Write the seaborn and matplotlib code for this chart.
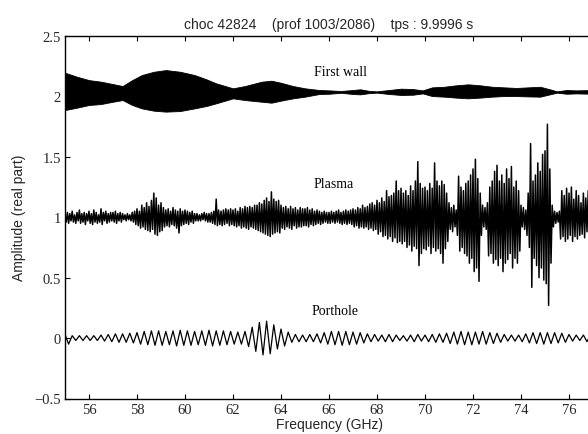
import numpy as np
import pandas as pd
import matplotlib
matplotlib.use("Agg")
import matplotlib.pyplot as plt
import seaborn as sns

# ---------------- data ----------------
title_text = "choc 42824    (prof 1003/2086)    tps : 9.9996 s"
x_label = "Frequency (GHz)"
y_label = "Amplitude (real part)"

x_ticks = [56, 58, 60, 62, 64, 66, 68, 70, 72, 74, 76]
y_ticks = [-0.5, 0, 0.5, 1, 1.5, 2, 2.5]
y_tick_labels = ["\u22120.5", "0", "0.5", "1", "1.5", "2", "2.5"]

series_names = ["First wall", "Plasma", "Porthole"]
label_freq = [66.5, 66.2, 66.25]
label_amp = [2.21, 1.28, 0.23]

# First wall: envelope of the dense oscillation (upper / lower)
fw_freq = [55.0, 55.5, 56.0, 56.5, 57.0, 57.4, 57.8, 58.2, 58.7, 59.2, 59.8,
           60.4, 60.9, 61.3, 62.0, 62.5, 63.2, 63.6, 64.0, 64.5, 65.0, 65.6,
           66.0, 66.5, 67.0, 67.3, 67.7, 68.0, 68.5, 69.0, 69.5, 69.9, 70.3,
           70.8, 71.3, 71.8, 72.3, 72.8, 73.3, 73.8, 74.3, 74.8, 75.2, 75.5,
           75.9, 76.3, 77.0]
fw_upper = [2.196, 2.163, 2.135, 2.122, 2.102, 2.086, 2.135, 2.177, 2.204, 2.218, 2.204,
            2.177, 2.141, 2.108, 2.067, 2.086, 2.122, 2.130, 2.113, 2.086, 2.067, 2.053,
            2.050, 2.045, 2.053, 2.059, 2.045, 2.042, 2.053, 2.064, 2.061, 2.050, 2.075,
            2.080, 2.092, 2.100, 2.092, 2.080, 2.075, 2.070, 2.075, 2.080, 2.059, 2.042,
            2.053, 2.050, 2.053]
fw_lower = [1.887, 1.907, 1.929, 1.937, 1.956, 1.970, 1.929, 1.901, 1.882, 1.874, 1.879,
            1.901, 1.921, 1.943, 1.984, 1.970, 1.956, 1.948, 1.965, 1.984, 1.998, 2.020,
            2.022, 2.030, 2.020, 2.017, 2.028, 2.031, 2.020, 2.012, 2.014, 2.025, 2.003,
            1.998, 1.990, 1.984, 1.990, 1.998, 2.003, 2.003, 2.000, 1.998, 2.017, 2.031,
            2.022, 2.025, 2.022]

# Plasma: successive extremes, sampled every 0.05 GHz from 55.00 to 77.00
plasma_amp = [
    1.00, 0.96, 1.04, 0.95, 1.03, 0.97, 1.05, 0.96, 1.02, 0.95, 1.04, 0.97, 1.06, 0.95, 1.03, 0.96, 1.04, 0.94, 1.03, 0.97,  # 55
    1.05, 0.95, 1.03, 0.94, 1.06, 0.96, 1.04, 0.95, 1.02, 0.96, 1.07, 0.94, 1.04, 0.97, 1.05, 0.95, 1.03, 0.96, 1.04, 0.97,  # 56
    1.04, 0.96, 1.05, 0.95, 1.03, 0.97, 1.04, 0.96, 1.03, 0.98, 1.02, 0.97, 1.03, 0.98, 1.02, 0.97, 1.04, 0.96, 1.05, 0.94,  # 57
    1.07, 0.93, 1.05, 0.91, 1.10, 0.92, 1.08, 0.90, 1.12, 0.89, 1.09, 0.88, 1.14, 0.90, 1.20, 0.86, 1.16, 0.85, 1.10, 0.88,  # 58
    1.12, 0.89, 1.08, 0.92, 1.06, 0.93, 1.07, 0.92, 1.05, 0.94, 1.08, 0.93, 1.06, 0.91, 1.05, 0.87, 1.07, 0.93, 1.05, 0.94,  # 59
    1.06, 0.95, 1.05, 0.94, 1.04, 0.96, 1.05, 0.95, 1.03, 0.97, 1.03, 0.97, 1.02, 0.97, 1.03, 0.98, 1.04, 0.97, 1.03, 0.96,  # 60
    1.03, 0.96, 1.04, 0.95, 1.05, 0.94, 1.15, 0.93, 1.06, 0.94, 1.05, 0.93, 1.06, 0.94, 1.07, 0.95, 1.06, 0.93, 1.07, 0.94,  # 61
    1.06, 0.93, 1.07, 0.92, 1.05, 0.93, 1.08, 0.91, 1.07, 0.92, 1.09, 0.91, 1.08, 0.90, 1.09, 0.92, 1.08, 0.91, 1.10, 0.90,  # 62
    1.10, 0.89, 1.12, 0.88, 1.11, 0.87, 1.14, 0.86, 1.16, 0.85, 1.13, 0.84, 1.21, 0.86, 1.15, 0.87, 1.13, 0.88, 1.14, 0.87,  # 63
    1.10, 0.91, 1.08, 0.90, 1.09, 0.92, 1.07, 0.91, 1.09, 0.90, 1.07, 0.93, 1.08, 0.91, 1.06, 0.92, 1.08, 0.92, 1.07, 0.93,  # 64
    1.07, 0.93, 1.08, 0.92, 1.06, 0.94, 1.07, 0.93, 1.05, 0.94, 1.06, 0.95, 1.05, 0.94, 1.04, 0.95, 1.05, 0.96, 1.04, 0.95,  # 65
    1.04, 0.95, 1.05, 0.96, 1.04, 0.95, 1.05, 0.96, 1.06, 0.95, 1.04, 0.94, 1.05, 0.95, 1.06, 0.94, 1.05, 0.95, 1.06, 0.94,  # 66
    1.07, 0.92, 1.06, 0.93, 1.08, 0.91, 1.07, 0.92, 1.10, 0.91, 1.08, 0.92, 1.09, 0.90, 1.11, 0.91, 1.12, 0.89, 1.10, 0.90,  # 67
    1.14, 0.86, 1.12, 0.88, 1.16, 0.84, 1.13, 0.85, 1.22, 0.82, 1.17, 0.84, 1.18, 0.80, 1.20, 0.83, 1.30, 0.79, 1.22, 0.80,  # 68
    1.24, 0.78, 1.20, 0.80, 1.22, 0.75, 1.18, 0.77, 1.26, 0.72, 1.22, 0.76, 1.30, 0.74, 1.46, 0.60, 1.28, 0.70, 1.24, 0.74,  # 69
    1.25, 0.73, 1.22, 0.76, 1.28, 0.70, 1.24, 0.75, 1.45, 0.72, 1.30, 0.74, 1.26, 0.70, 1.30, 0.62, 1.27, 0.74, 1.20, 0.80,  # 70
    1.12, 0.90, 1.08, 0.88, 1.10, 0.92, 1.06, 0.85, 1.34, 0.72, 1.25, 0.75, 1.22, 0.70, 1.28, 0.68, 1.30, 0.62, 1.35, 0.66,  # 71
    1.40, 0.55, 1.48, 0.58, 1.32, 0.47, 1.20, 0.85, 1.10, 0.92, 1.08, 0.90, 1.12, 0.68, 1.25, 0.70, 1.30, 0.62, 1.38, 0.65,  # 72
    1.43, 0.60, 1.30, 0.66, 1.35, 0.55, 1.28, 0.62, 1.40, 0.65, 1.32, 0.70, 1.42, 0.58, 1.25, 0.66, 1.30, 0.62, 1.22, 0.72,  # 73
    1.10, 0.92, 1.08, 0.90, 1.06, 0.85, 1.20, 0.75, 1.61, 0.42, 1.30, 0.66, 1.35, 0.60, 1.45, 0.50, 1.38, 0.58, 1.52, 0.48,  # 74
    1.55, 0.45, 1.77, 0.27, 1.40, 0.62, 1.10, 0.92, 1.05, 0.95, 1.04, 0.96, 1.05, 0.82, 1.22, 0.84, 1.18, 0.80, 1.24, 0.82,  # 75
    1.20, 0.85, 1.25, 0.80, 1.15, 0.84, 1.22, 0.82, 1.18, 0.85, 1.12, 0.86, 1.20, 0.83, 1.16, 0.88, 1.22, 0.82, 1.18, 0.85,  # 76
    1.10,                                                                                                                  # 77
]

# Porthole: successive extremes, sampled every 0.15 GHz from 55.0
porthole_amp = [
    0.030, -0.050, 0.020, -0.020, 0.020, -0.020, 0.020, -0.020, 0.020, -0.020,
    0.025, -0.025, 0.030, -0.030, 0.035, -0.035, 0.035, -0.035, 0.040, -0.040,
    0.045, -0.050, 0.055, -0.055, 0.060, -0.060, 0.060, -0.060, 0.055, -0.055,
    0.060, -0.065, 0.065, -0.060, 0.060, -0.060, 0.055, -0.055, 0.060, -0.060,
    0.065, -0.065, 0.060, -0.060, 0.060, -0.055, 0.055, -0.050, 0.050, -0.050,
    0.055, -0.070, 0.090, -0.110, 0.130, -0.140, 0.140, -0.130, 0.110, -0.090,
    0.075, -0.065, 0.050, -0.035, 0.030, -0.030, 0.025, -0.030, 0.030, -0.030,
    0.035, -0.040, 0.045, -0.050, 0.055, -0.055, 0.055, -0.060, 0.055, -0.055,
    0.050, -0.050, 0.045, -0.040, 0.035, -0.030, 0.030, -0.025, 0.025, -0.030,
    0.030, -0.030, 0.025, -0.020, 0.020, -0.025, 0.025, -0.030, 0.030, -0.025,
    0.025, -0.030, 0.030, -0.035, 0.035, -0.035, 0.040, -0.045, 0.050, -0.050,
    0.055, -0.055, 0.050, -0.055, 0.050, -0.050, 0.055, -0.050, 0.045, -0.045,
    0.040, -0.035, 0.030, -0.025, 0.025, -0.025, 0.025, -0.030, 0.035, -0.040,
    0.045, -0.045, 0.045, -0.050, 0.045, -0.045, 0.045, -0.040, 0.040, -0.035,
    0.030, -0.025, 0.025, -0.020, 0.025, -0.030, 0.030,
]

# sampling grids (frequency axis of the two sampled series)
plasma_freq = np.linspace(55.0, 77.0, len(plasma_amp))
porthole_freq = np.linspace(55.0, 55.0 + 0.15 * (len(porthole_amp) - 1), len(porthole_amp))

# ---------------- figure ----------------
sns.set_theme(style="ticks")
plt.rcParams["font.family"] = ["Liberation Sans", "DejaVu Sans"]
plt.rcParams["xtick.direction"] = "in"
plt.rcParams["ytick.direction"] = "in"

fig = plt.figure(figsize=(5.88, 4.35), dpi=100)
W, H = 588.0, 435.0
ax = fig.add_axes([65 / W, (H - 399.5) / H, (593 - 65) / W, (399.5 - 37) / H])

ax.fill_between(fw_freq, fw_lower, fw_upper, color="black", linewidth=0.6,
                edgecolor="black")

df_plasma = pd.DataFrame({"freq": plasma_freq, "amp": plasma_amp})
df_port = pd.DataFrame({"freq": porthole_freq, "amp": porthole_amp})
sns.lineplot(data=df_plasma, x="freq", y="amp", ax=ax, color="black",
             linewidth=1.1, estimator=None, sort=False)
sns.lineplot(data=df_port, x="freq", y="amp", ax=ax, color="black",
             linewidth=0.9, estimator=None, sort=False)

for name, fx, fy in zip(series_names, label_freq, label_amp):
    ax.text(fx, fy, name, ha="center", va="center", fontsize=10,
            family=["Liberation Serif", "DejaVu Serif"], color="black")

ax.set_xlim(55, 77)
ax.set_ylim(-0.5, 2.5)
ax.set_xticks(x_ticks)
ax.set_xticklabels([str(t) for t in x_ticks],
                   family=["Liberation Serif", "DejaVu Serif"], fontsize=10.5)
ax.set_yticks(y_ticks)
ax.set_yticklabels(y_tick_labels,
                   family=["Liberation Serif", "DejaVu Serif"], fontsize=10.5)
ax.tick_params(axis="both", which="both", direction="in", length=3.5,
               width=0.8, top=True, right=True, color="black", pad=3)
for sp in ax.spines.values():
    sp.set_linewidth(1.0)
    sp.set_color("black")

ax.set_xlabel(x_label, fontsize=10, labelpad=1)
ax.set_ylabel(y_label, fontsize=10, labelpad=6)
ax.set_title(title_text, fontsize=10, pad=6)

fig.savefig("out.png", dpi=100)
